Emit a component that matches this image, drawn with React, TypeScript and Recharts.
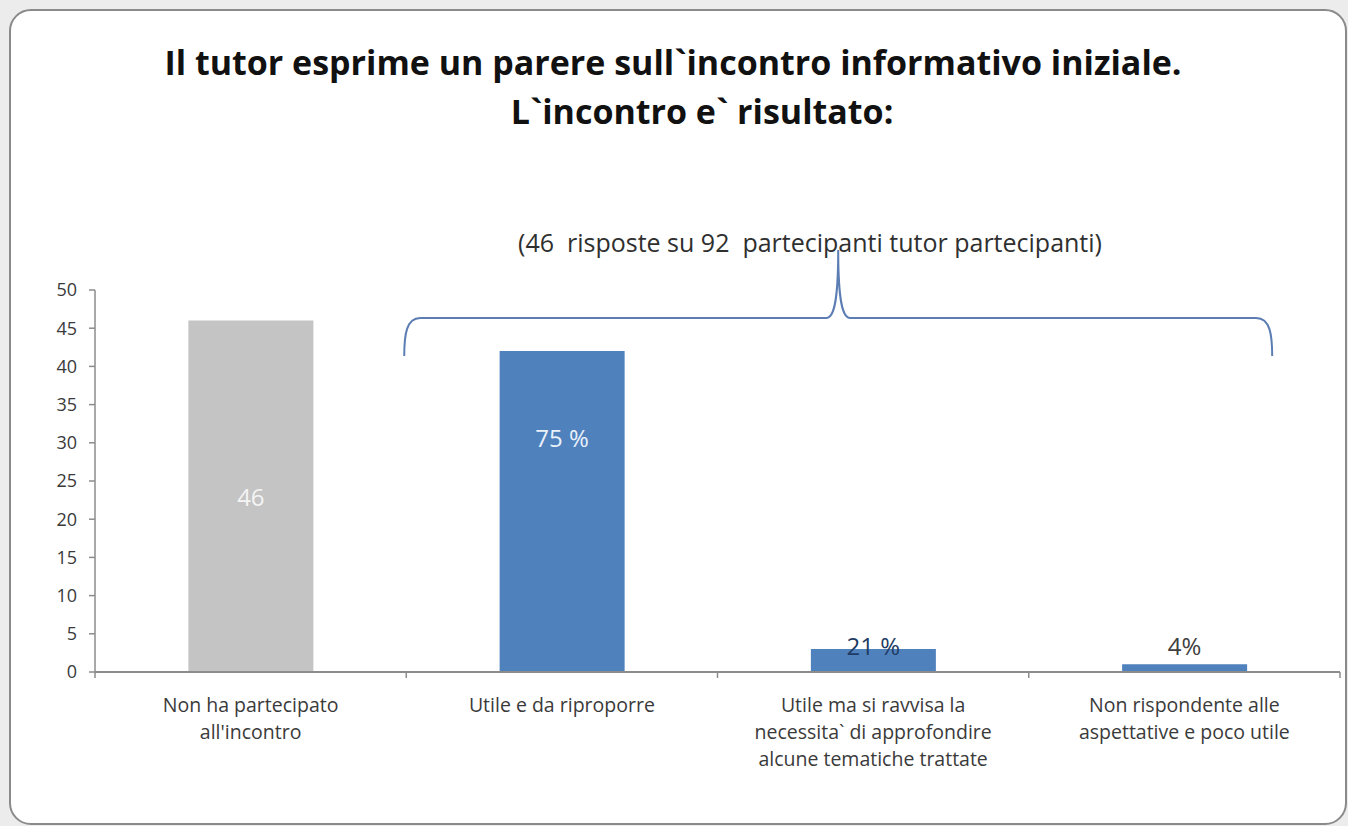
import React from "react";
import { BarChart, Bar, XAxis, YAxis, Cell } from "recharts";

// values
const categories = [
  "Non ha partecipato\nall'incontro",
  "Utile e da riproporre",
  "Utile ma si ravvisa la\nnecessita` di approfondire\nalcune tematiche trattate",
  "Non rispondente alle\naspettative e poco utile",
];
const counts = [46, 42, 3, 1];
const barLabels = ["46", "75 %", "21 %", "4%"];
const barColors = ["#c4c4c4", "#4f81bd", "#4f81bd", "#4f81bd"];
const yTicks = [0, 5, 10, 15, 20, 25, 30, 35, 40, 45, 50];

const titleLines = [
  "Il tutor esprime un parere sull`incontro informativo iniziale.",
  "L`incontro e` risultato:",
];
const subtitle = "(46  risposte su 92  partecipanti tutor partecipanti)";

const data = categories.map((name, i) => ({ name, value: counts[i] }));

const W = 1348;
const H = 826;
const M = { top: 290, right: 8, bottom: 0, left: 45 };
const Y_W = 50;
const X_H = 154;
const plotLeft = M.left + Y_W;
const plotW = W - M.right - plotLeft;
const band = plotW / categories.length;
const FONT = "'Open Sans', Lato, sans-serif";

const CatTick = (props: any) => {
  const { x, y, payload, index } = props;
  const lines = String(payload.value).split("\n");
  return (
    <g>
      <line x1={x - band / 2} x2={x - band / 2} y1={y - 8} y2={y - 2} stroke="#8c8c8c" strokeWidth={1.5} />
      {index === categories.length - 1 && (
        <line x1={x + band / 2} x2={x + band / 2} y1={y - 8} y2={y - 2} stroke="#8c8c8c" strokeWidth={1.5} />
      )}
      {lines.map((l, i) => (
        <text key={i} x={x} y={y + 32 + i * 27} textAnchor="middle" fontSize={19.5} fill="#3a3a3a" fontFamily={FONT}>
          {l}
        </text>
      ))}
    </g>
  );
};

const renderLabel = (p: any) => {
  const { x, y, width, height, index } = p;
  const cx = x + width / 2;
  let cy = y + height / 2;
  let fill = "#f4f4f4";
  if (index === 1) {
    cy = y + height * 0.27;
    fill = "#eaf1fb";
  } else if (index >= 2) {
    cy = y + height - 27;
    fill = index === 2 ? "#1f3b63" : "#404040";
  }
  return (
    <text x={cx} y={cy} textAnchor="middle" dominantBaseline="central" fontSize={24} fill={fill} fontFamily={FONT}>
      {barLabels[index]}
    </text>
  );
};

// curly brace spanning the three answered categories
const Brace = () => {
  const x0 = plotLeft + band - 2;
  const x1 = plotLeft + band * 3 + band * 0.75 + 10;
  const xm = (x0 + x1) / 2;
  const yb = 318;
  const d = [
    `M ${x0} 356`,
    `C ${x0} 335, ${x0 + 2} ${yb}, ${x0 + 16} ${yb}`,
    `L ${xm - 12} ${yb}`,
    `C ${xm - 4} ${yb}, ${xm} 300, ${xm} 250`,
    `C ${xm} 300, ${xm + 4} ${yb}, ${xm + 12} ${yb}`,
    `L ${x1 - 16} ${yb}`,
    `C ${x1 - 2} ${yb}, ${x1} 335, ${x1} 356`,
  ].join(" ");
  return (
    <svg width={W} height={H} style={{ position: "absolute", left: 0, top: 0, pointerEvents: "none" }}>
      <path d={d} fill="none" stroke="#5b7db3" strokeWidth={2} />
    </svg>
  );
};

export default function App() {
  return (
    <div style={{ position: "absolute", left: 0, top: 0, width: W, height: H, background: "#ececec", overflow: "hidden" }}>
      <div
        style={{
          position: "absolute",
          left: 9,
          top: 9,
          width: 1334,
          height: 812,
          background: "#fff",
          border: "2px solid #8a8a8a",
          borderRadius: 22,
        }}
      />
      <div style={{ position: "absolute", left: 0, top: 0 }}>
        <BarChart width={W} height={H} data={data} margin={M} barCategoryGap="30%">
          <XAxis
            dataKey="name"
            interval={0}
            height={X_H}
            tickLine={false}
            axisLine={{ stroke: "#8c8c8c", strokeWidth: 2 }}
            tick={<CatTick />}
          />
          <YAxis
            width={Y_W}
            domain={[0, 50]}
            ticks={yTicks}
            interval={0}
            tickSize={6}
            tickMargin={12}
            axisLine={{ stroke: "#8c8c8c", strokeWidth: 1.5 }}
            tickLine={{ stroke: "#8c8c8c", strokeWidth: 1.5 }}
            tick={{ fontSize: 18, fill: "#3a3a3a", fontFamily: FONT }}
          />
          <Bar dataKey="value" isAnimationActive={false} label={renderLabel}>
            {data.map((d, i) => (
              <Cell key={d.name} fill={barColors[i]} />
            ))}
          </Bar>
        </BarChart>
      </div>
      <Brace />
      <div style={{ position: "absolute", left: 0, top: 38, width: W, fontFamily: FONT, fontWeight: 700, fontSize: 34, color: "#111", lineHeight: "49px" }}>
        <div style={{ textAlign: "center", marginLeft: -2 }}>{titleLines[0]}</div>
        <div style={{ textAlign: "center", marginLeft: 56 }}>{titleLines[1]}</div>
      </div>
      <div style={{ position: "absolute", left: 0, top: 225, width: W, paddingLeft: 272, boxSizing: "border-box", textAlign: "center", whiteSpace: "pre", fontFamily: FONT, fontSize: 25, color: "#2f2f2f" }}>
        {subtitle}
      </div>
    </div>
  );
}
